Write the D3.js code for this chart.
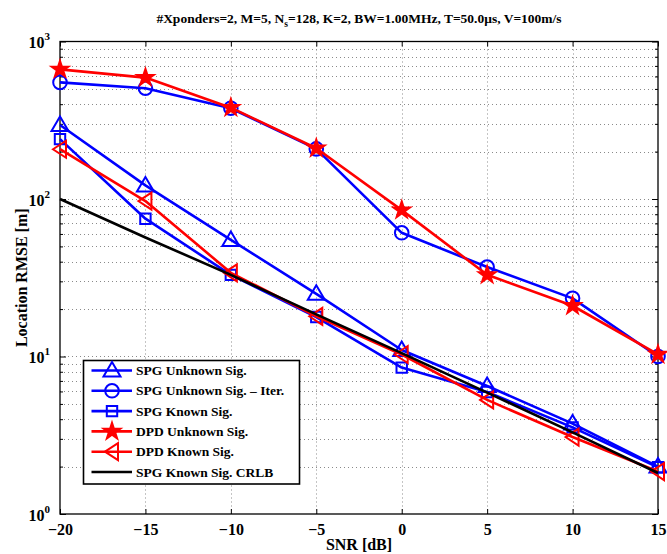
<!DOCTYPE html>
<html><head><meta charset="utf-8">
<script src="https://cdn.jsdelivr.net/npm/d3@7"></script>
<style>body{margin:0;background:#fff}svg{display:block}text{font-family:"Liberation Serif","Times New Roman",serif;font-weight:bold}</style>
</head><body><svg id="c" width="667" height="554"></svg>
<script>
const snr = [-20, -15, -10, -5, 0, 5, 10, 15];
const spgUnknown = [295, 122, 55, 25, 11, 6.5, 3.75, 2.0];
const spgUnknownIter = [550, 505, 377, 208, 61, 37, 23.4, 10.0];
const spgKnown = [240, 75, 33, 17.8, 8.5, 5.95, 3.55, 1.98];
const dpdUnknown = [665, 590, 380, 210, 85, 33, 21, 10.3];
const dpdKnown = [207, 97, 34, 18, 10.3, 5.3, 3.08, 1.86];
const crlb = [100, 57, 33, 18.5, 10.5, 5.9, 3.3, 1.82];
const xTicks = [-20, -15, -10, -5, 0, 5, 10, 15];
const yTicks = [1, 10, 100, 1000];
const seriesNames = ["SPG Unknown Sig.", "SPG Unknown Sig. \u2013 Iter.", "SPG Known Sig.", "DPD Unknown Sig.", "DPD Known Sig.", "SPG Known Sig. CRLB"];

const series = [
  {name: seriesNames[0], vals: spgUnknown, color: "#0000ff", marker: "triUp"},
  {name: seriesNames[1], vals: spgUnknownIter, color: "#0000ff", marker: "circle"},
  {name: seriesNames[2], vals: spgKnown, color: "#0000ff", marker: "square"},
  {name: seriesNames[3], vals: dpdUnknown, color: "#ff0000", marker: "star"},
  {name: seriesNames[4], vals: dpdKnown, color: "#ff0000", marker: "triLeft"},
  {name: seriesNames[5], vals: crlb, color: "#000000", marker: null}
];

const L = 60, R = 658, T = 41.5, B = 514;
const svg = d3.select("#c");
const x = d3.scaleLinear().domain([-20, 15]).range([L, R]);
const y = d3.scaleLog().domain([1, 1000]).range([B, T]);

const minorY = [];
for (let d = 1; d < 1000; d *= 10) for (let k = 2; k <= 9; k++) minorY.push(d * k);

const g = svg.append("g");
g.selectAll(".gx").data(xTicks.slice(1, -1)).join("line")
  .attr("x1", d => Math.round(x(d)) + 0.5).attr("x2", d => Math.round(x(d)) + 0.5).attr("y1", T).attr("y2", B)
  .attr("stroke", "#8a8a8a").attr("stroke-width", 1).attr("stroke-dasharray", "1,3");
g.selectAll(".gy").data(minorY.concat([10, 100])).join("line")
  .attr("x1", L).attr("x2", R).attr("y1", d => Math.round(y(d)) + 0.5).attr("y2", d => Math.round(y(d)) + 0.5)
  .attr("stroke", "#8a8a8a").attr("stroke-width", 1).attr("stroke-dasharray", "1,3");

const fs = 16;
const xAxis = svg.append("g").attr("transform", `translate(0,${B})`)
  .call(d3.axisBottom(x).tickValues(xTicks).tickSizeInner(-5).tickSizeOuter(0).tickPadding(10)
    .tickFormat(d => d < 0 ? "\u2212" + Math.abs(d) : d));
xAxis.select(".domain").remove();
xAxis.selectAll("text").attr("font-size", fs).attr("fill", "#000").style("font-family", "Liberation Serif").style("font-weight", "bold");
xAxis.selectAll("line").attr("stroke", "#000");
const xAxisTop = svg.append("g").attr("transform", `translate(0,${T})`)
  .call(d3.axisTop(x).tickValues(xTicks).tickSizeInner(-5).tickSizeOuter(0).tickFormat(""));
xAxisTop.select(".domain").remove();

const yAxis = svg.append("g").attr("transform", `translate(${L},0)`)
  .call(d3.axisLeft(y).tickValues(yTicks).tickSizeInner(-6).tickSizeOuter(0).tickPadding(10).tickFormat(""));
yAxis.select(".domain").remove();
yAxis.selectAll(".tick").each(function(d) {
  const t = d3.select(this).append("text").attr("x", -10).attr("y", 6).attr("text-anchor", "end")
    .attr("fill", "#000").attr("font-size", fs);
  t.append("tspan").text("10");
  t.append("tspan").attr("font-size", 11).attr("dy", -8).text(Math.round(Math.log10(d)));
});
const yMinorL = svg.append("g").attr("transform", `translate(${L},0)`)
  .call(d3.axisLeft(y).tickValues(minorY).tickSizeInner(-3).tickSizeOuter(0).tickFormat(""));
yMinorL.select(".domain").remove();
const yAxisR = svg.append("g").attr("transform", `translate(${R},0)`)
  .call(d3.axisRight(y).tickValues(yTicks).tickSizeInner(-6).tickSizeOuter(0).tickFormat(""));
yAxisR.select(".domain").remove();
const yMinorR = svg.append("g").attr("transform", `translate(${R},0)`)
  .call(d3.axisRight(y).tickValues(minorY).tickSizeInner(-3).tickSizeOuter(0).tickFormat(""));
yMinorR.select(".domain").remove();

svg.append("rect").attr("x", L).attr("y", T).attr("width", R - L).attr("height", B - T)
  .attr("fill", "none").attr("stroke", "#000").attr("stroke-width", 1.3);

function markerPath(type) {
  switch (type) {
    case "triUp": return "M0,-8.5 L8.5,6 L-8.5,6 Z";
    case "triLeft": return "M-7,0 L6,-8.5 L6,8.5 Z";
    case "square": return "M-5.2,-5.2 H5.2 V5.2 H-5.2 Z";
    case "circle": return d3.symbol(d3.symbolCircle, Math.PI * 6.8 * 6.8)();
    case "star": return d3.symbol(d3.symbolStar, 85)();
  }
}

const line = d3.line().x((d, i) => x(snr[i])).y(d => y(d));
const plot = svg.append("g");
series.forEach(s => {
  const sg = plot.append("g");
  sg.append("path").datum(s.vals).attr("d", line).attr("fill", "none")
    .attr("stroke", s.color).attr("stroke-width", 2.6).attr("stroke-linejoin", "round");
  if (s.marker) {
    sg.selectAll("path.m").data(s.vals).join("path").attr("class", "m")
      .attr("transform", (d, i) => `translate(${x(snr[i])},${y(d)})`)
      .attr("d", markerPath(s.marker))
      .attr("fill", s.marker === "star" ? s.color : "none")
      .attr("stroke", s.color).attr("stroke-width", 2);
  }
});

const lg = svg.append("g");
lg.append("rect").attr("x", 83.5).attr("y", 360.5).attr("width", 216).attr("height", 123.5)
  .attr("fill", "#fff").attr("stroke", "#000").attr("stroke-width", 1.6);
series.forEach((s, i) => {
  const yy = 370.5 + i * 20.3;
  lg.append("line").attr("x1", 91.5).attr("x2", 132).attr("y1", yy).attr("y2", yy)
    .attr("stroke", s.color).attr("stroke-width", 2.6);
  if (s.marker) lg.append("path").attr("transform", `translate(112,${yy})`).attr("d", markerPath(s.marker))
    .attr("fill", s.marker === "star" ? s.color : "none").attr("stroke", s.color).attr("stroke-width", 2);
  lg.append("text").attr("x", 136).attr("y", yy + 4.5).attr("font-size", 13.5).attr("fill", "#000").text(s.name);
});

const title = svg.append("text").attr("x", (L + R) / 2).attr("y", 23).attr("text-anchor", "middle")
  .attr("font-size", 13.5).attr("fill", "#000");
title.append("tspan").text("#Xponders=2, M=5, N");
title.append("tspan").attr("font-size", 9.5).attr("dy", 4).text("s");
title.append("tspan").attr("dy", -4).text("=128, K=2, BW=1.00MHz, T=50.0\u03bcs, V=100m/s");

svg.append("text").attr("x", (L + R) / 2).attr("y", 550).attr("text-anchor", "middle")
  .attr("font-size", 16).attr("fill", "#000").text("SNR [dB]");
svg.append("text").attr("transform", `translate(27,${(T + B) / 2}) rotate(-90)`).attr("text-anchor", "middle")
  .attr("font-size", 16).attr("fill", "#000").text("Location RMSE [m]");
</script></body></html>
